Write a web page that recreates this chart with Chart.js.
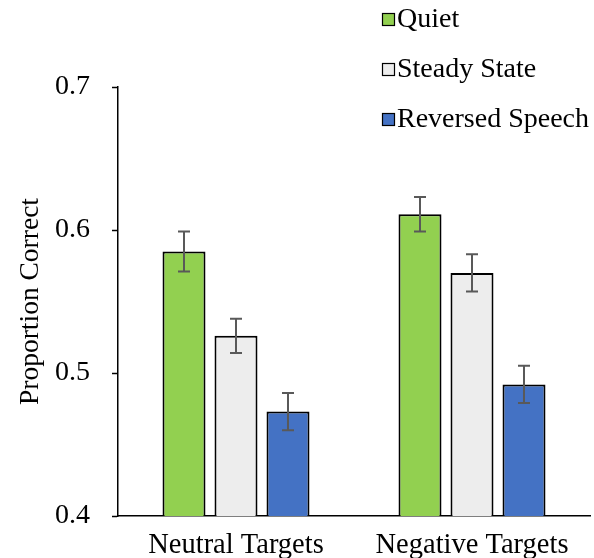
<!DOCTYPE html>
<html>
<head>
<meta charset="utf-8">
<script src="https://cdn.jsdelivr.net/npm/chart.js@4/dist/chart.umd.min.js"></script>
<style>
  html, body { margin: 0; padding: 0; background: #fff; }
  #wrap { width: 594px; height: 558px; position: relative; }
</style>
</head>
<body>
<div id="wrap"><canvas id="c"></canvas></div>
<script>
const categories = ["Neutral Targets", "Negative Targets"];
const seriesNames = ["Quiet", "Steady State", "Reversed Speech"];
const quiet = [0.585, 0.611];
const steadyState = [0.526, 0.570];
const reversedSpeech = [0.473, 0.492];
const quietErr = [0.014, 0.012];
const steadyErr = [0.012, 0.013];
const reversedErr = [0.013, 0.013];
const yTicks = [0.4, 0.5, 0.6, 0.7];
const colors = ["#92D050", "#EDEDED", "#4472C4"];

const FONT = "'Liberation Serif', 'Times New Roman', serif";
Chart.defaults.font.family = FONT;
Chart.defaults.color = "#000";

const errorBars = {
  id: "errorBars",
  afterDatasetsDraw(chart) {
    const ctx = chart.ctx;
    const y = chart.scales.y;
    ctx.save();
    ctx.strokeStyle = "#595959";
    ctx.lineWidth = 2;
    chart.data.datasets.forEach((ds, i) => {
      const meta = chart.getDatasetMeta(i);
      meta.data.forEach((bar, j) => {
        const v = ds.data[j], e = ds.errors[j];
        const x = bar.x;
        const yTop = y.getPixelForValue(v + e);
        const yBot = y.getPixelForValue(v - e);
        const cap = 6;
        ctx.beginPath();
        ctx.moveTo(x, yTop); ctx.lineTo(x, yBot);
        ctx.moveTo(x - cap, yTop); ctx.lineTo(x + cap, yTop);
        ctx.moveTo(x - cap, yBot); ctx.lineTo(x + cap, yBot);
        ctx.stroke();
      });
    });
    ctx.restore();
  }
};

const customLegend = {
  id: "customLegend",
  afterDraw(chart) {
    const ctx = chart.ctx;
    ctx.save();
    ctx.font = "28px " + FONT;
    ctx.textBaseline = "middle";
    ctx.textAlign = "left";
    chart.data.datasets.forEach((ds, i) => {
      const cy = 19 + i * 50;
      ctx.fillStyle = ds.backgroundColor;
      ctx.fillRect(382, cy - 6, 13, 13);
      ctx.strokeStyle = "#000";
      ctx.lineWidth = 1.2;
      ctx.strokeRect(382.5, cy - 5.5, 12, 12);
      ctx.fillStyle = "#000";
      ctx.fillText(ds.label, 397, cy + 1);
    });
    ctx.restore();
  }
};

new Chart(document.getElementById("c"), {
  type: "bar",
  data: {
    labels: categories,
    datasets: [
      { label: seriesNames[0], data: quiet, errors: quietErr, backgroundColor: colors[0] },
      { label: seriesNames[1], data: steadyState, errors: steadyErr, backgroundColor: colors[1] },
      { label: seriesNames[2], data: reversedSpeech, errors: reversedErr, backgroundColor: colors[2] }
    ].map(d => Object.assign(d, {
      borderColor: "#000",
      borderWidth: 2,
      categoryPercentage: 0.661,
      barPercentage: 0.827
    }))
  },
  options: {
    responsive: true,
    maintainAspectRatio: false,
    animation: false,
    layout: { padding: { top: 87, right: 4, left: 0, bottom: 0 } },
    plugins: { legend: { display: false }, tooltip: { enabled: false } },
    scales: {
      x: {
        grid: { display: false },
        border: { color: "#000", width: 1.5 },
        ticks: { font: { size: 28.5 }, color: "#000", padding: 4 },
        afterFit(s) { s.height = 42; }
      },
      y: {
        min: 0.4, max: 0.7,
        afterBuildTicks(s) { s.ticks = yTicks.map(v => ({ value: v })); },
        grid: { drawOnChartArea: false, drawTicks: true, tickLength: 6, color: "#000", tickWidth: 1.5 },
        border: { color: "#000", width: 1.5 },
        ticks: {
          font: { size: 28 }, color: "#000", padding: 22,
          callback: v => Number(v).toFixed(1)
        },
        title: { display: true, text: "Proportion Correct", font: { size: 27.5 }, color: "#000", padding: { top: 14, bottom: 0 } },
        afterFit(s) { s.width = 118; }
      }
    }
  },
  plugins: [errorBars, customLegend]
});
</script>
</body>
</html>
